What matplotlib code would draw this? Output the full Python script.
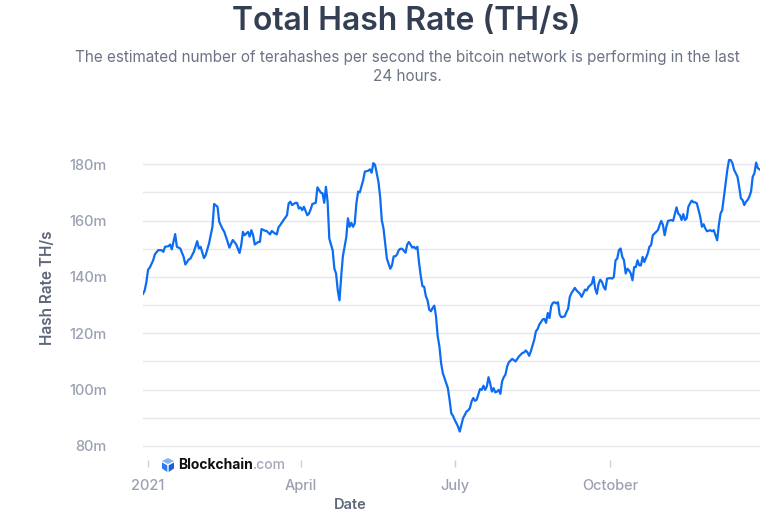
import matplotlib
matplotlib.use("Agg")
import matplotlib.pyplot as plt
from matplotlib.patches import Polygon
from matplotlib.ticker import FuncFormatter, FixedLocator
import pandas as pd

# day offset from 2021-01-01 and hash rate in millions of TH/s
days = [
    -3, -2, -1, 0, 1, 3, 4, 6, 8, 9, 10, 12, 13, 14, 16, 17, 19, 21, 22, 24,
    25, 27, 29, 30, 31, 33, 34, 36, 38, 39, 41, 42, 44, 45, 47, 48, 50, 52, 54, 55,
    56, 57, 59, 60, 61, 62, 63, 65, 66, 67, 69, 70, 72, 73, 75, 76, 77, 78, 80, 82,
    83, 84, 85, 87, 88, 89, 90, 91, 92, 94, 95, 96, 97, 99, 100, 102, 103, 104, 105, 106,
    107, 109, 110, 111, 112, 113, 114, 115, 116, 117, 118, 119, 120, 121, 122, 123, 124, 125, 127, 128,
    130, 131, 132, 133, 134, 135, 136, 137, 138, 139, 140, 141, 142, 143, 144, 145, 146, 147, 148, 149,
    150, 152, 153, 154, 156, 157, 158, 159, 160, 161, 162, 163, 164, 165, 166, 167, 168, 169, 170, 171,
    172, 173, 174, 176, 177, 178, 179, 180, 181, 183, 184, 185, 186, 187, 188, 189, 190, 191, 192, 193,
    194, 196, 197, 198, 199, 200, 201, 202, 203, 204, 205, 206, 207, 208, 209, 210, 211, 212, 213, 214,
    215, 217, 218, 219, 221, 222, 223, 224, 225, 226, 228, 229, 230, 231, 233, 234, 235, 236, 237, 238,
    239, 240, 241, 242, 243, 244, 246, 247, 248, 249, 250, 252, 253, 254, 255, 256, 258, 259, 260, 262,
    263, 264, 265, 266, 267, 268, 269, 270, 271, 273, 274, 275, 276, 277, 278, 279, 280, 281, 282, 283,
    284, 285, 286, 287, 288, 289, 290, 291, 292, 293, 295, 296, 297, 298, 299, 300, 301, 302, 303, 304,
    305, 306, 307, 309, 310, 312, 313, 314, 315, 316, 317, 318, 319, 320, 321, 322, 323, 324, 325, 326,
    327, 328, 329, 330, 332, 333, 334, 335, 336, 337, 338, 339, 340, 341, 342, 343, 344, 345, 346, 348,
    349, 350, 351, 352, 353, 354, 355, 356, 357, 358, 359, 360, 361,
]
hash_rate = [
    134.0, 135.2, 138.2, 142.6, 143.3, 145.9, 148.0, 149.5, 149.5, 148.9, 150.7, 150.9, 151.5, 149.8, 155.2, 150.7, 150.1, 147.1, 144.4, 146.2,
    146.5, 148.9, 152.7, 150.1, 150.7, 146.7, 147.7, 151.9, 157.8, 165.9, 164.9, 159.6, 157.0, 156.0, 152.4, 150.4, 153.1, 151.6, 148.5, 151.3,
    156.0, 154.8, 156.0, 154.3, 156.6, 154.8, 151.5, 152.4, 152.4, 157.0, 156.4, 156.3, 155.1, 156.3, 155.4, 155.1, 157.6, 158.4, 160.2, 161.9,
    166.1, 166.7, 165.5, 166.3, 166.3, 164.3, 164.7, 163.7, 164.9, 161.9, 162.5, 164.0, 165.9, 166.3, 171.8, 169.9, 169.7, 166.3, 172.0, 166.7,
    153.6, 149.4, 142.9, 141.2, 135.2, 131.7, 140.0, 147.3, 150.7, 154.0, 160.8, 157.8, 159.2, 157.8, 159.0, 166.1, 170.3, 170.0, 174.4, 177.4,
    177.7, 178.2, 177.0, 180.4, 179.8, 176.8, 173.8, 168.5, 160.1, 157.2, 151.9, 146.5, 144.7, 142.9, 144.1, 147.3, 147.3, 148.0, 149.5, 150.0,
    150.0, 148.6, 151.5, 152.4, 150.4, 150.7, 150.0, 150.7, 145.0, 140.3, 136.7, 136.5, 133.2, 131.7, 128.4, 127.8, 129.0, 129.8, 126.0, 118.9,
    115.4, 109.4, 105.9, 102.3, 100.5, 96.4, 91.6, 90.7, 89.3, 86.9, 85.1, 87.5, 89.9, 91.0, 92.2, 92.6, 93.4, 95.8, 97.0, 96.0,
    96.4, 100.2, 99.9, 101.4, 99.9, 101.1, 104.4, 102.1, 99.3, 100.5, 99.0, 99.3, 99.9, 98.5, 102.9, 104.4, 105.3, 108.2, 109.7, 110.3,
    110.9, 110.0, 110.9, 111.8, 113.0, 113.2, 113.9, 113.2, 112.0, 113.6, 117.7, 120.7, 121.5, 123.1, 124.9, 125.1, 123.7, 127.2, 125.4, 129.6,
    130.8, 131.0, 130.6, 131.0, 126.6, 125.7, 126.0, 127.5, 128.7, 132.9, 134.3, 136.1, 135.2, 134.6, 134.0, 132.9, 135.5, 135.2, 136.4, 137.6,
    140.0, 135.8, 134.0, 137.6, 139.0, 138.2, 136.4, 135.5, 139.4, 139.6, 139.4, 140.0, 145.9, 146.5, 149.5, 150.1, 147.1, 145.9, 141.2, 142.9,
    142.3, 141.2, 138.8, 143.5, 143.5, 145.9, 144.1, 144.1, 147.1, 145.3, 148.3, 150.7, 151.3, 154.8, 155.4, 156.0, 156.6, 158.4, 159.9, 158.4,
    154.8, 157.8, 159.9, 160.2, 159.9, 164.7, 162.5, 161.9, 160.2, 162.3, 160.2, 160.8, 164.9, 166.1, 167.1, 166.5, 166.5, 166.1, 163.7, 161.4,
    157.8, 158.7, 157.2, 156.2, 156.6, 156.2, 156.6, 154.8, 153.0, 158.4, 162.5, 163.7, 168.5, 173.2, 178.0, 181.5, 181.5, 180.4, 178.0, 175.6,
    172.0, 167.9, 167.3, 165.5, 166.7, 167.3, 168.5, 170.3, 175.6, 176.8, 180.6, 178.6, 178.2,
]

tick_dates = ["2021-01-01", "2021-04-01", "2021-07-01", "2021-10-01"]
tick_labels = ["2021", "April", "July", "October"]

BLUE = "#0C6CF2"
GRID = "#E6E8EE"
TICK_TXT = "#9BA1B3"
AXIS_TXT = "#5E6679"
TITLE_TXT = "#353F54"
SUB_TXT = "#6B7385"

plt.rcParams["font.family"] = ["Inter", "DejaVu Sans"]

W, H = 784, 528
fig = plt.figure(figsize=(W / 100, H / 100), dpi=100)
fig.patch.set_facecolor("white")

ax = fig.add_axes([143 / W, 1 - 460 / H, (759.5 - 143) / W, (460 - 155.8) / H])

dates = pd.Timestamp("2021-01-01") + pd.to_timedelta(days, unit="D")
ax.plot(dates, hash_rate, color=BLUE, linewidth=1.6, solid_joinstyle="round")

ax.set_xlim(dates[0], dates[-1])
ax.set_ylim(75, 183)

ax.yaxis.set_major_locator(FixedLocator(list(range(80, 181, 10))))
ax.yaxis.set_major_formatter(FuncFormatter(lambda v, p: f"{v:.0f}m" if int(round(v)) % 20 == 0 else ""))
ax.grid(axis="y", color=GRID, linewidth=1)
ax.set_axisbelow(True)

ax.set_xticks(pd.to_datetime(tick_dates))
ax.set_xticklabels(tick_labels)

for s in ax.spines.values():
    s.set_visible(False)
ax.tick_params(axis="y", length=0, pad=26, labelsize=10.5, labelcolor=TICK_TXT)
ax.tick_params(axis="x", length=5, width=1, color="#CCD1DB", pad=9,
               labelsize=10.5, labelcolor=TICK_TXT)
for t in ax.get_xticklabels() + ax.get_yticklabels():
    t.set_fontweight("medium")

# titles
fig.text(406 / W, 1 - 21 / H, "Total Hash Rate (TH/s)", ha="center", va="center",
         fontsize=23, fontweight="semibold", color=TITLE_TXT)
fig.text(407 / W, 1 - 67 / H,
         "The estimated number of terahashes per second the bitcoin network is performing in the last\n24 hours.",
         ha="center", va="center", fontsize=11, color=SUB_TXT, linespacing=1.3)

fig.text(48 / W, 1 - 288 / H, "Hash Rate TH/s", rotation=90, ha="center", va="center",
         fontsize=11, fontweight="semibold", color=AXIS_TXT)
fig.text(350 / W, 1 - 505 / H, "Date", ha="center", va="center",
         fontsize=10.5, fontweight="semibold", color=AXIS_TXT)

# Blockchain.com watermark
def px(pts):
    return [(x / W, 1 - y / H) for x, y in pts]

fig.patches.append(Polygon(px([(162, 461), (168, 458), (174, 461), (168, 464)]),
                           closed=True, transform=fig.transFigure, facecolor="#7FB2F8", edgecolor="none"))
fig.patches.append(Polygon(px([(162, 462.5), (167.3, 465.3), (167.3, 472), (162, 468.5)]),
                           closed=True, transform=fig.transFigure, facecolor="#2C7BF2", edgecolor="none"))
fig.patches.append(Polygon(px([(174, 462.5), (168.7, 465.3), (168.7, 472), (174, 468.5)]),
                           closed=True, transform=fig.transFigure, facecolor="#1A5FD6", edgecolor="none"))
t1 = fig.text(178 / W, 1 - 465 / H, "Blockchain", ha="left", va="center",
              fontsize=10, fontweight="bold", color="#111111")
fig.canvas.draw()
bb = t1.get_window_extent()
fig.text(bb.x1 / W, 1 - 465 / H, ".com", ha="left", va="center",
         fontsize=10, fontweight="medium", color="#A3A8B8")

fig.savefig("out.png", dpi=100, facecolor="white")
